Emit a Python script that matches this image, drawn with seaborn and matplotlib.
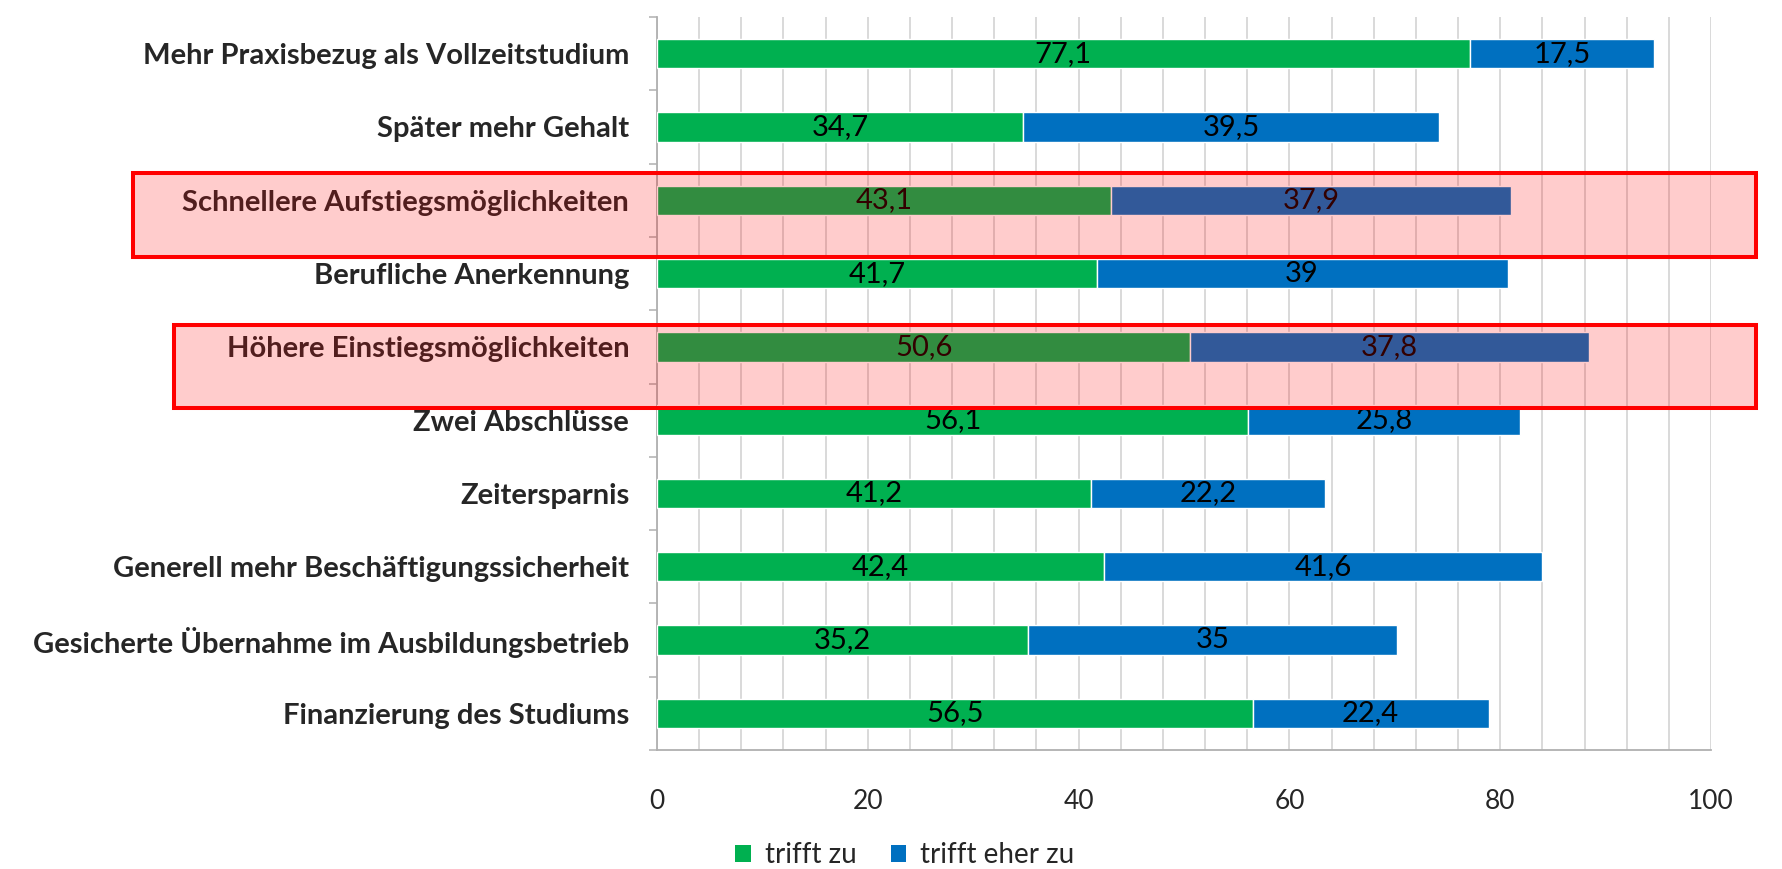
import numpy as np
import pandas as pd
import matplotlib
matplotlib.use("Agg")
import matplotlib.pyplot as plt
import seaborn as sns
from matplotlib.patches import Rectangle, Patch
from matplotlib.transforms import blended_transform_factory
from matplotlib.ticker import MultipleLocator, FixedLocator

# Gründe für ein duales Studium (Anteile in %)
categories = [
    "Mehr Praxisbezug als Vollzeitstudium",
    "Später mehr Gehalt",
    "Schnellere Aufstiegsmöglichkeiten",
    "Berufliche Anerkennung",
    "Höhere Einstiegsmöglichkeiten",
    "Zwei Abschlüsse",
    "Zeitersparnis",
    "Generell mehr Beschäftigungssicherheit",
    "Gesicherte Übernahme im Ausbildungsbetrieb",
    "Finanzierung des Studiums",
]
trifft_zu = [77.1, 34.7, 43.1, 41.7, 50.6, 56.1, 41.2, 42.4, 35.2, 56.5]
trifft_eher_zu = [17.5, 39.5, 37.9, 39.0, 37.8, 25.8, 22.2, 41.6, 35.0, 22.4]
series_names = ["trifft zu", "trifft eher zu"]
x_ticks = [0, 20, 40, 60, 80, 100]
highlighted = ["Schnellere Aufstiegsmöglichkeiten", "Höhere Einstiegsmöglichkeiten"]

GREEN = "#00B050"
BLUE = "#0070C0"
GRID = "#D0D0D0"
AXIS = "#B0B0B0"

sns.set_theme(style="white")
plt.rcParams["font.family"] = ["Lato", "DejaVu Sans"]

W, H = 1783, 869
fig = plt.figure(figsize=(W / 100, H / 100), dpi=100)
ax = fig.add_axes([657 / W, 1 - 750 / H, (1711 - 657) / W, (750 - 17) / H])

df = pd.DataFrame({"kategorie": categories, "zu": trifft_zu, "eher": trifft_eher_zu})

sns.barplot(data=df, y="kategorie", x="zu", color=GREEN, width=0.4,
            saturation=1, errorbar=None, ax=ax, zorder=3)
sns.barplot(data=df, y="kategorie", x="eher", color=BLUE, width=0.4,
            saturation=1, errorbar=None, ax=ax, zorder=3,
            left=df["zu"].to_numpy())


def fmt(v):
    return f"{v:g}".replace(".", ",")


ax.bar_label(ax.containers[0], labels=[fmt(v) for v in trifft_zu],
             label_type="center", fontsize=21, color="black")
ax.bar_label(ax.containers[1], labels=[fmt(v) for v in trifft_eher_zu],
             label_type="center", fontsize=21, color="black")

# Axes, grid and ticks
ax.set_xlim(0, 100)
ax.set_ylim(len(categories) - 0.5, -0.5)
ax.set_xlabel("")
ax.set_ylabel("")
ax.xaxis.set_major_locator(FixedLocator(x_ticks))
ax.xaxis.set_minor_locator(MultipleLocator(4))
ax.grid(True, axis="x", which="both", color=GRID, linewidth=1.1)
ax.grid(False, axis="y")
ax.set_axisbelow(True)
ax.tick_params(axis="x", which="both", length=0, pad=28, labelsize=19)
ax.tick_params(axis="y", which="major", length=0, pad=20, labelsize=21)
ax.yaxis.set_minor_locator(FixedLocator(np.arange(-0.5, len(categories), 1.0)))
ax.tick_params(axis="y", which="minor", length=6, width=1.1, color=AXIS,
               direction="out", left=True)
for lab in ax.get_yticklabels():
    lab.set_fontweight("bold")
for side in ["top", "right"]:
    ax.spines[side].set_visible(False)
for side in ["left", "bottom"]:
    ax.spines[side].set_color(AXIS)
    ax.spines[side].set_linewidth(1.3)

# Legend
handles = [Patch(facecolor=GREEN, edgecolor="none"), Patch(facecolor=BLUE, edgecolor="none")]
fig.legend(handles, series_names, loc="center", bbox_to_anchor=(905 / W, 1 - 855 / H),
           ncol=2, frameon=False, fontsize=20, handlelength=0.55, handleheight=0.55,
           handletextpad=0.5, columnspacing=1.25)

# Translucent highlight frames over two rows
trans = blended_transform_factory(fig.transFigure, ax.transData)
frames = {
    "Schnellere Aufstiegsmöglichkeiten": (133 / W, 1.63, 2.78),
    "Höhere Einstiegsmöglichkeiten": (174 / W, 3.70, 4.83),
}
for name in highlighted:
    x0, y_top, y_bot = frames[name]
    rect = Rectangle((x0, y_top), 1756 / W - x0, y_bot - y_top, transform=trans,
                     facecolor=(1, 0, 0, 0.2), edgecolor=(1, 0, 0, 1),
                     linewidth=2.9, zorder=10, clip_on=False)
    fig.add_artist(rect)

fig.savefig("out.png", dpi=100)
